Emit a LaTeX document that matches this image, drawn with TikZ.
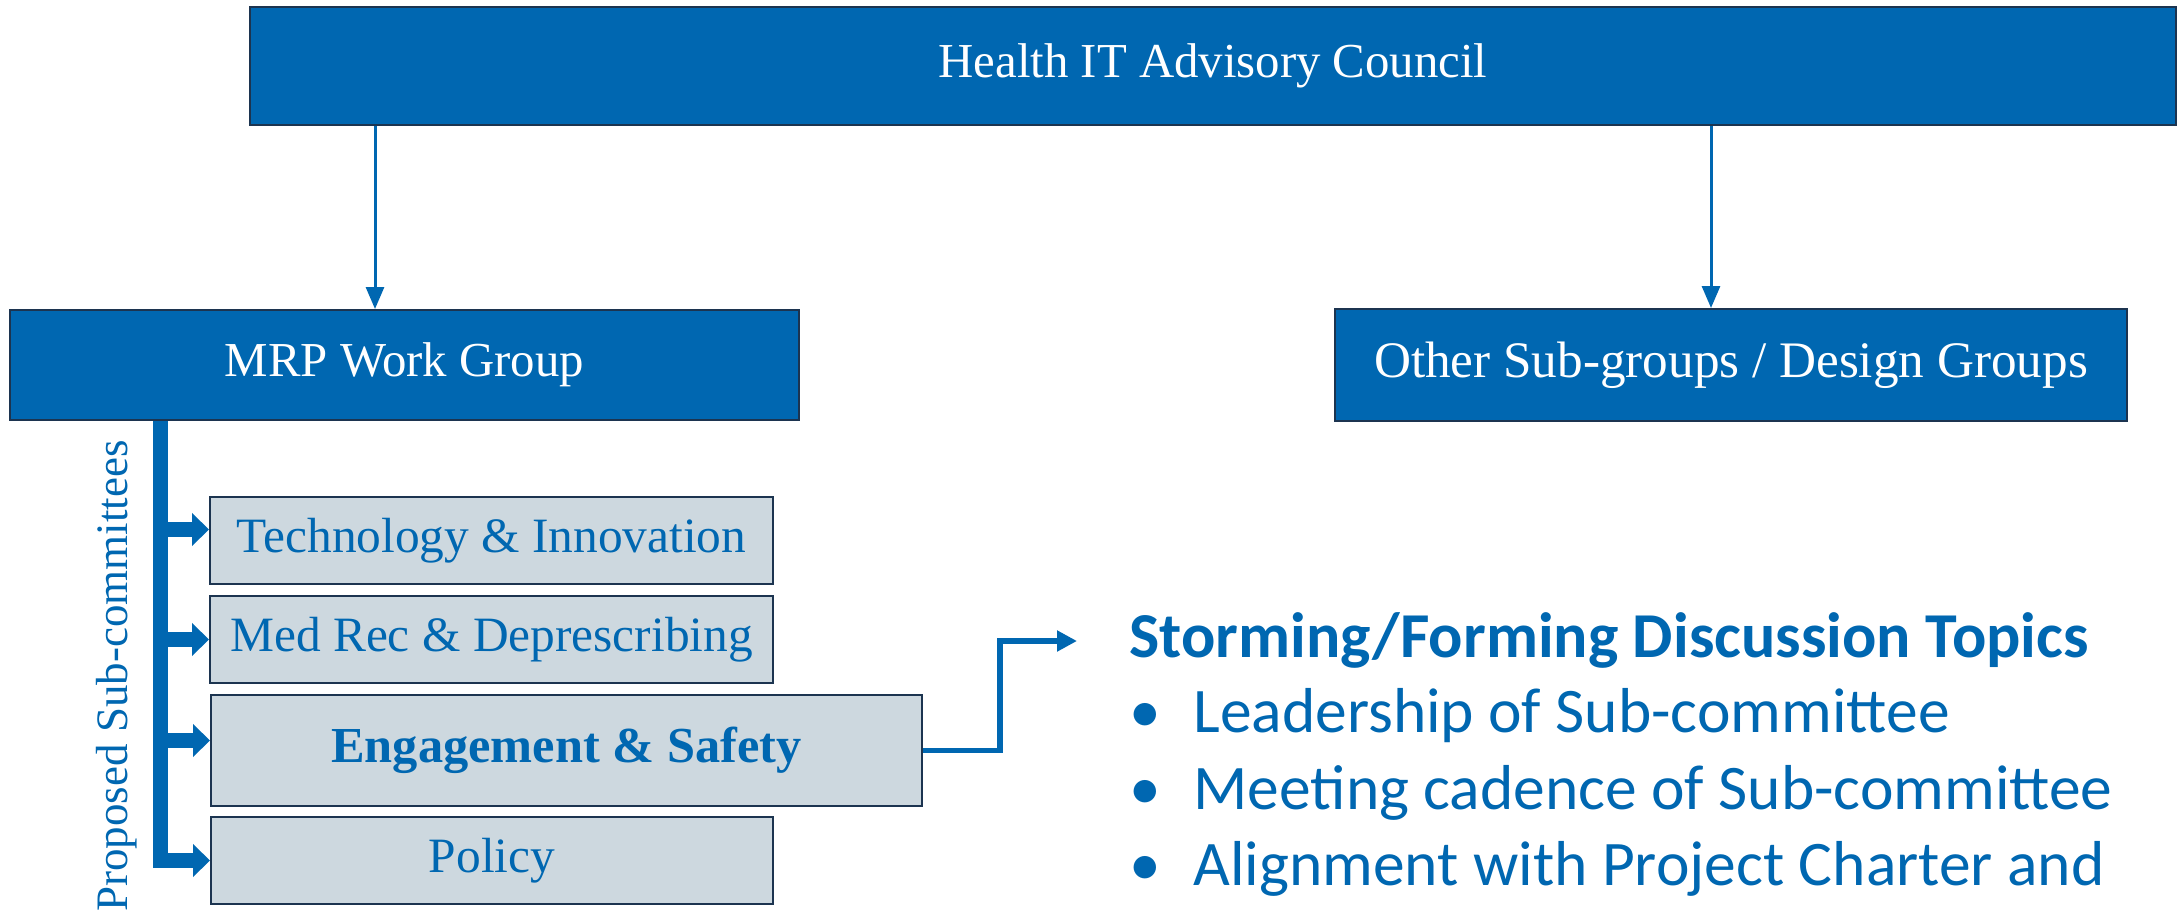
\documentclass[tikz,border=0pt]{standalone}
\usepackage{fontspec}
\setmainfont{Liberation Serif}
\newfontfamily\sansf{Carlito}
\usetikzlibrary{arrows.meta}
\definecolor{hblue}{RGB}{0,103,177}
\definecolor{hborder}{RGB}{28,52,80}
\definecolor{hgrey}{RGB}{205,216,223}
\tikzset{
  bluebox/.style={draw=hborder, line width=1pt, fill=hblue, text=white, inner sep=0pt,
    font=\fontsize{24.4}{28}\selectfont},
  greybox/.style={draw=hborder, line width=1pt, fill=hgrey, text=hblue, inner sep=0pt,
    font=\fontsize{24.7}{28}\selectfont},
  thinarrow/.style={draw=hblue, line width=1.5pt, -{Triangle[length=11pt 0, width=9pt 0]}},
  trunkline/.style={draw=hblue, line width=7.5pt, line join=miter, -{Triangle[length=8.5pt 0, width=16pt 0]}},
  linkline/.style={draw=hblue, line width=2.75pt, -{Triangle[length=10pt 0, width=10pt 0]}},
  topictext/.style={text=hblue, inner sep=0pt, anchor=base west},
}
\begin{document}
\begin{tikzpicture}[x=0.5pt, y=-0.5pt]
\useasboundingbox (0,0) rectangle (2179,916);
% boxes
\node[bluebox, minimum width=963pt, minimum height=59pt] (council) at (1213,66) {Health IT Advisory Council};
\node[bluebox, minimum width=394.5pt, minimum height=55pt] (mrp) at (404.5,365) {MRP Work Group};
\node[bluebox, minimum width=396pt, minimum height=56pt, font=\fontsize{25.6}{28}\selectfont] (other) at (1731,365) {Other Sub-groups / Design Groups};
\node[greybox, minimum width=281.5pt, minimum height=43.5pt] (tech) at (491.5,540.5) {Technology \& Innovation};
\node[greybox, minimum width=281.5pt, minimum height=43.5pt] (med) at (491.5,639.5) {Med Rec \& Deprescribing};
\node[greybox, minimum width=355.5pt, minimum height=55.5pt, font=\fontsize{25.2}{28}\selectfont] (eng) at (566.5,750.5) {\bfseries Engagement \& Safety};
\node[greybox, minimum width=281pt, minimum height=43.5pt] (pol) at (492,860.5) {Policy};
% rotated label
\node[rotate=90, text=hblue, inner sep=0pt, font=\fontsize{22.5}{26}\selectfont] (prop) at (117,676) {Proposed Sub-committees};
% coordinates for connectors
\coordinate (ax1) at (375,0);
\coordinate (ax2) at (1711,0);
\coordinate (tx) at (160,0);
\coordinate (bend) at (1000,0);
\coordinate (topics) at (1077,641);
% connectors
\draw[thinarrow] (council.south -| ax1) -- (mrp.north -| ax1);
\draw[thinarrow] (council.south -| ax2) -- (other.north -| ax2);
\draw[trunkline] (mrp.south -| tx) |- (pol.west);
\draw[trunkline] ([yshift=5.5pt]tech.west -| tx) -- ([yshift=5.5pt]tech.west);
\draw[trunkline] (med.west -| tx) -- (med.west);
\draw[trunkline] ([yshift=5pt]eng.west -| tx) -- ([yshift=5pt]eng.west);
\draw[linkline] (eng.east) -| (bend |- topics) -- (topics);
% topics text
\node[topictext, font=\sansf\bfseries\fontsize{32}{38}\selectfont] (title) at (1129,657) {Storming/Forming Discussion Topics};
\node[topictext, font=\sansf\fontsize{31.75}{38}\selectfont] (b1) at (1129,732) {\makebox[32pt][l]{•}Leadership of Sub-committee};
\node[topictext, font=\sansf\fontsize{31.75}{38}\selectfont] (b2) at (1129,809) {\makebox[32pt][l]{•}Meeting cadence of Sub-committee};
\node[topictext, font=\sansf\fontsize{31.75}{38}\selectfont] (b3) at (1129,885) {\makebox[32pt][l]{•}Alignment with Project Charter and};
\end{tikzpicture}
\end{document}
